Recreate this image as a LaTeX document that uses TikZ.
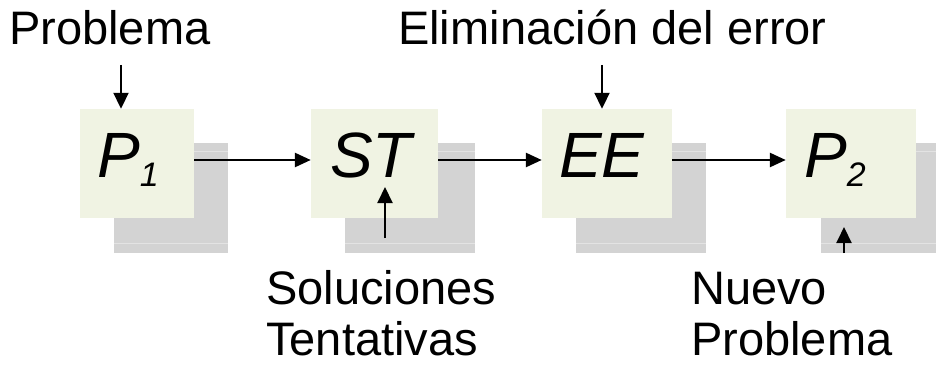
\documentclass[tikz,border=0pt]{standalone}
\usepackage{fontspec}
\setmainfont{Liberation Sans}
\usetikzlibrary{arrows.meta}
\definecolor{boxgreen}{HTML}{F0F3E3}
\definecolor{shadowgray}{HTML}{D3D3D3}
\definecolor{shadowline}{HTML}{E3E3E3}
\begin{document}
\begin{tikzpicture}[x=1pt,y=-1pt,
  stepbox/.style={fill=boxgreen, draw=none, inner sep=0pt, minimum height=109pt},
  steptext/.style={anchor=base west, inner sep=0pt, font=\fontsize{64}{64}\selectfont\itshape},
  arr/.style={-{Triangle[length=16pt,width=14pt]}, line width=2.6pt},
  varr/.style={-{Triangle[length=16pt,width=15pt]}, line width=2pt},
  lbl/.style={anchor=base west, inner sep=0pt, text depth=0pt, font=\fontsize{47}{47}\selectfont}]
\useasboundingbox (0,0) rectangle (936,366);
% shadows
\foreach \l/\r in {114/228, 345/475, 576/706, 821/936}{
  \fill[shadowgray] (\l,143) rectangle (\r,253);
  \draw[shadowline, line width=1pt] (\l,152) -- (\r,152);
  \draw[shadowline, line width=1pt] (\l,243) -- (\r,243);
}
% boxes
\node[stepbox, minimum width=114pt] (p1) at (137,163.5) {};
\node[stepbox, minimum width=127pt] (st) at (374.5,163.5) {};
\node[stepbox, minimum width=130pt] (ee) at (607,163.5) {};
\node[stepbox, minimum width=130pt] (p2) at (851,163.5) {};
\node[steptext] (p1t) at (97,178) {P\raisebox{-9pt}{\fontsize{34}{34}\selectfont 1}};
\node[steptext] (stt) at (330,178) {ST};
\node[steptext] (eet) at (559,178) {EE};
\node[steptext] (p2t) at (804,178) {P\raisebox{-9pt}{\fontsize{34}{34}\selectfont 2}};
% labels
\node[lbl] (prob) at (9,45) {Problema};
\node[lbl] (elim) at (398,45) {Eliminación del error};
\node[lbl] (sol) at (266,304) {Soluciones};
\node[lbl] (tent) at (266,355) {Tentativas};
\node[lbl] (nuevo) at (691,304) {Nuevo};
\node[lbl] (nprob) at (691,355) {Problema};
% connectors
\draw[arr] ([yshift=3.5pt]p1.east) -- ([yshift=3.5pt]st.west);
\draw[arr] ([yshift=3.5pt]st.east) -- ([yshift=3.5pt]ee.west);
\draw[arr] ([yshift=3.5pt]ee.east) -- ([yshift=3.5pt]p2.west);
\coordinate (a1) at (121,65);
\coordinate (a2) at (602,65);
\draw[varr] (a1) -- (a1 |- p1.north);
\draw[varr] (a2) -- (a2 |- ee.north);
\coordinate (s0) at (385,238);
\coordinate (s1) at (385,187);
\draw[varr] (s0) -- (s1);
\coordinate (n0) at (844,253);
\coordinate (n1) at (844,227);
\draw[varr] (n0) -- (n1);
\end{tikzpicture}
\end{document}
